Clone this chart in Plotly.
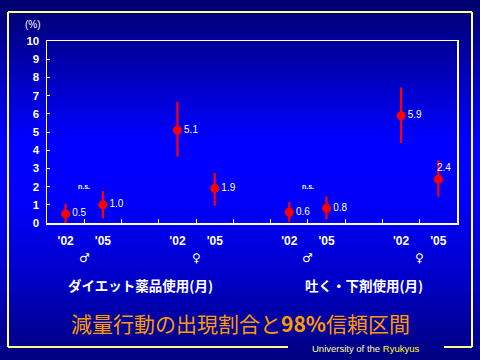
import plotly.graph_objects as go

# ---- data ----
groups = ["ダイエット薬品使用(月)", "吐く・下剤使用(月)"]
sexes = ["♂", "♀"]
years = ["'02", "'05"]
values = [0.5, 1.0, 5.1, 1.9, 0.6, 0.8, 5.9, 2.4]
lower = [0.0, 0.25, 3.65, 0.95, 0.05, 0.2, 4.4, 1.45]
upper = [1.05, 1.75, 6.65, 2.75, 1.15, 1.45, 7.45, 3.45]
labels = ["0.5", "1.0", "5.1", "1.9", "0.6", "0.8", "5.9", "2.4"]
y_ticks = list(range(0, 11))

# background gradient stops (pixel row, blue level)
bg_y = [0, 40, 100, 140, 200, 240, 285, 320, 360]
bg_blue = [110, 150, 215, 255, 250, 225, 195, 160, 128]

W, H = 480, 360
PL, PR, PT, PB = 47, 457, 41, 223

# positions: 2 groups x 2 sexes x 2 years with gap slots
xs = []
for g in range(len(groups)):
    for s in range(len(sexes)):
        for yi in range(len(years)):
            xs.append(g * 6 + s * 3 + yi + 0.5)
xl = [y for _ in range(len(groups) * len(sexes)) for y in years]

fig = go.Figure()

# background
fig.add_trace(go.Heatmap(
    x=[0, 1], y=bg_y, z=[[b, b] for b in bg_blue],
    colorscale=[[0, "rgb(0,0,0)"], [1, "rgb(0,0,255)"]], zmin=0, zmax=255,
    zsmooth="best", showscale=False, hoverinfo="skip", xaxis="x", yaxis="y"))

# last label is placed above the point (annotation below)
texts = labels[:-1] + [""]

fig.add_trace(go.Scatter(
    x=xs, y=values, mode="markers+text", text=texts, textposition="middle right",
    textfont=dict(family="Liberation Sans", size=10, color="white"),
    marker=dict(color="#FF0000", size=9),
    error_y=dict(type="data", symmetric=False,
                 array=[u - v for u, v in zip(upper, values)],
                 arrayminus=[v - l for v, l in zip(values, lower)],
                 color="#FF0000", thickness=2.2, width=0),
    xaxis="x2", yaxis="y2", cliponaxis=False, showlegend=False))

def A(**kw):
    kw.setdefault("showarrow", False)
    kw.setdefault("xanchor", "center")
    kw.setdefault("yanchor", "middle")
    return kw

ann = []
ann.append(A(x=xs[-1], y=values[-1], xref="x2", yref="y2", text=labels[-1],
             xshift=6, yshift=12, font=dict(family="Liberation Sans", size=10, color="white")))
# n.s.
for g in range(len(groups)):
    ann.append(A(x=g * 6 + 1, y=2.0, xref="x2", yref="y2", text="<b>n.s.</b>",
                 font=dict(family="Liberation Sans", size=7, color="white")))
# sex symbols
for g in range(len(groups)):
    for s in range(len(sexes)):
        ann.append(A(x=g * 6 + s * 3 + 1, y=1 - 258 / H, xref="x2", yref="paper",
                     text="<b>" + sexes[s] + "</b>",
                     font=dict(family="DejaVu Sans", size=12, color="white")))
# group labels
for g, name in enumerate(groups):
    ann.append(A(x=g * 6 + 2.5, y=1 - 285 / H, xref="x2", yref="paper",
                 text="<b>" + name + "</b>",
                 font=dict(family="Noto Sans CJK JP", size=13.5, color="white")))
# (%)
ann.append(A(x=33 / W, y=1 - 25 / H, xref="paper", yref="paper", text="(%)",
             font=dict(family="Liberation Sans", size=10, color="white")))
# title
ann.append(A(x=240 / W, y=1 - 323 / H, xref="paper", yref="paper",
             text="減量行動の出現割合と<b>98%</b>信頼区間",
             font=dict(family="Noto Sans CJK JP", size=21, color="#FF9900")))
# footer
ann.append(A(x=365 / W, y=1 - 348 / H, xref="paper", yref="paper",
             text="<span style='color:#FFFF99'>University of the</span> <span style='color:#FFFF22'>Ryukyus</span>",
             font=dict(family="Liberation Sans", size=9.5, color="#FFFF66")))

yc = "#FFFF88"
def L(x0, y0, x1, y1):
    return dict(type="line", xref="paper", yref="paper", x0=x0 / W, x1=x1 / W,
                y0=1 - y0 / H, y1=1 - y1 / H, line=dict(color=yc, width=2))

shapes = [L(8, 12, 472, 12), L(8, 12, 8, 347), L(472, 12, 472, 347),
          L(8, 347, 288, 347), L(444, 347, 472, 347)]

fig.update_layout(
    template="none",
    width=W, height=H, margin=dict(l=0, r=0, t=0, b=0, pad=0, autoexpand=False),
    paper_bgcolor="#000080", plot_bgcolor="rgba(0,0,0,0)",
    showlegend=False, annotations=ann, shapes=shapes,
    xaxis=dict(domain=[0, 1], range=[0, 1], visible=False, fixedrange=True, automargin=False),
    yaxis=dict(domain=[0, 1], range=[H, 0], visible=False, fixedrange=True, automargin=False),
    xaxis2=dict(domain=[PL / W, PR / W], range=[0, 11], anchor="y2", automargin=False,
                showline=True, linecolor="white", linewidth=1.5, mirror=True,
                showgrid=False, zeroline=False,
                tickmode="array", tickvals=xs, ticktext=xl, ticks="",
                ticklabelstandoff=6,
                tickfont=dict(family="Liberation Sans", size=12, color="white", weight="bold"),
                minor=dict(tickmode="array", tickvals=list(range(1, 11)), ticks="inside",
                           ticklen=4, tickcolor="white", tickwidth=1, showgrid=False)),
    yaxis2=dict(domain=[1 - PB / H, 1 - PT / H], range=[0, 10], anchor="x2", automargin=False,
                showline=True, linecolor="white", linewidth=1.5, mirror=True,
                showgrid=False, zeroline=False,
                tickmode="array", tickvals=y_ticks, ticks="inside", ticklen=3,
                tickcolor="white", ticklabelstandoff=4,
                tickfont=dict(family="Liberation Sans", size=11.5, color="white", weight="bold")),
)

fig.write_html("out.html", config={"displayModeBar": False, "staticPlot": True},
               post_script="document.body.style.margin='0px';")
